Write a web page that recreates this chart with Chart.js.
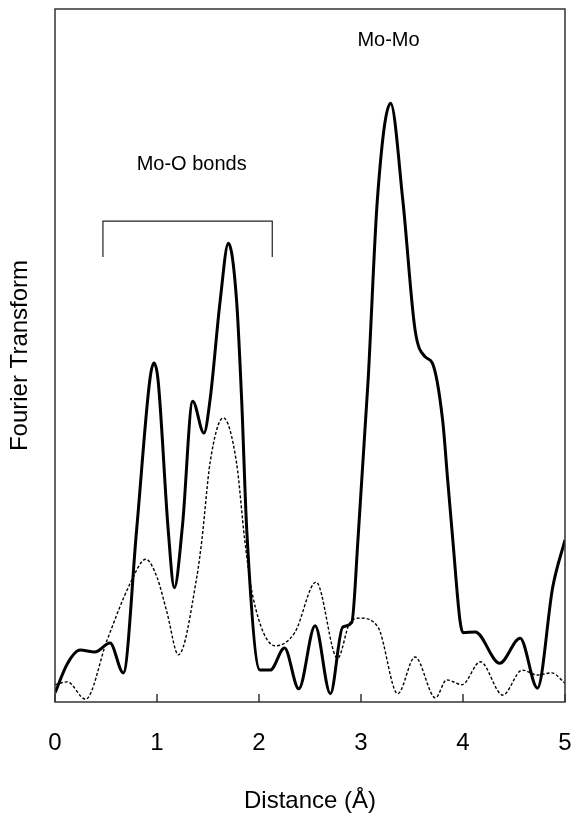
<!DOCTYPE html>
<html>
<head>
<meta charset="utf-8">
<script src="https://cdn.jsdelivr.net/npm/chart.js@4/dist/chart.umd.min.js"></script>
<style>
    html, body { margin: 0; padding: 0; background: #fff; overflow: hidden; }
    #wrap { width: 573px; height: 816px; position: relative; }
    canvas { display: block; }
</style>
</head>
<body>
<div id="wrap"><canvas id="ftChart"></canvas></div>
<script>
// Solid (thick) curve
const solidX = [0, 0.12, 0.245, 0.39, 0.54, 0.67, 0.80, 0.93, 0.97, 1.01, 1.11, 1.17, 1.25, 1.35, 1.46, 1.52, 1.62, 1.70, 1.78, 1.83, 1.88, 2.01, 2.11, 2.25, 2.39, 2.55, 2.70, 2.82, 2.91, 2.97, 3.07, 3.16, 3.29, 3.41, 3.53, 3.63, 3.70, 3.80, 3.85, 3.90, 3.97, 4.0, 4.12, 4.36, 4.56, 4.73, 4.88, 5.0];
const solidY = [1.3, 5.5, 7.5, 7.2, 8.5, 4.2, 24.8, 46.5, 48.9, 46.5, 24.8, 16.5, 25.5, 43.4, 38.8, 43.6, 58, 66.2, 58, 43.6, 24.8, 4.6, 4.6, 7.8, 1.9, 11.0, 1.2, 10.8, 11.5, 23.4, 46.5, 72.4, 86.4, 72.4, 53.7, 49.8, 48.9, 40.7, 32, 23.4, 11.8, 10.0, 10.1, 5.6, 9.2, 2.0, 16.6, 23.4];

// Dashed (thin) curve
const dashX = [0, 0.12, 0.30, 0.51, 0.74, 0.89, 1.0, 1.10, 1.21, 1.39, 1.44, 1.52, 1.65, 1.78, 1.86, 1.94, 2.16, 2.35, 2.56, 2.77, 2.89, 2.99, 3.17, 3.36, 3.53, 3.73, 3.84, 3.99, 4.17, 4.39, 4.58, 4.73, 4.87, 5.0];
const dashY = [2.5, 2.9, 0.4, 8.9, 17.2, 20.6, 18.0, 12.8, 6.8, 18.0, 23.4, 34.5, 41.0, 34.5, 23.4, 15.2, 8.1, 10.0, 17.3, 6.3, 11.4, 12.1, 10.7, 1.2, 6.5, 0.6, 3.2, 2.5, 5.8, 1.0, 4.6, 3.9, 4.2, 2.7];

// Bracket over the Mo-O peaks
const bracketX = [0.47, 0.47, 2.13, 2.13];
const bracketY = [64.2, 69.4, 69.4, 64.2];

const xTicks = [0, 1, 2, 3, 4, 5];
const labelText = ['Mo-O bonds', 'Mo-Mo'];
const labelX = [1.34, 3.27];
const labelY = [77.5, 95.5];

const FONT = 'Arial, "Liberation Sans", Helvetica, sans-serif';

function toPoints(xs, ys) {
    return xs.map((x, i) => ({ x: x, y: ys[i] }));
}

// Frame, inward tick marks and the text labels
const decorPlugin = {
    id: 'decor',
    afterDraw(chart) {
        const { ctx, chartArea: a, scales } = chart;
        ctx.save();
        ctx.strokeStyle = '#333';
        ctx.lineWidth = 1.5;
        ctx.strokeRect(a.left, a.top, a.right - a.left, a.bottom - a.top);
        ctx.beginPath();
        xTicks.forEach(t => {
            const px = scales.x.getPixelForValue(t);
            ctx.moveTo(px, a.bottom);
            ctx.lineTo(px, a.bottom - 8);
        });
        ctx.stroke();
        ctx.fillStyle = '#000';
        ctx.font = '20px ' + FONT;
        ctx.textAlign = 'center';
        ctx.textBaseline = 'middle';
        labelText.forEach((txt, i) => {
            ctx.fillText(txt, scales.x.getPixelForValue(labelX[i]), scales.y.getPixelForValue(labelY[i]));
        });
        ctx.restore();
    }
};

const ctx = document.getElementById('ftChart').getContext('2d');
new Chart(ctx, {
    type: 'line',
    data: {
        datasets: [{
            data: toPoints(solidX, solidY),
            borderColor: '#000',
            borderWidth: 3,
            cubicInterpolationMode: 'monotone',
            pointRadius: 0
        }, {
            data: toPoints(dashX, dashY),
            borderColor: '#000',
            borderWidth: 1.4,
            borderDash: [3, 2],
            cubicInterpolationMode: 'monotone',
            pointRadius: 0
        }, {
            data: toPoints(bracketX, bracketY),
            borderColor: '#222',
            borderWidth: 1.2,
            tension: 0,
            pointRadius: 0
        }]
    },
    options: {
        responsive: true,
        maintainAspectRatio: false,
        animation: false,
        layout: { padding: { top: 9, right: 8, left: 0, bottom: 0 } },
        plugins: {
            legend: { display: false },
            tooltip: { enabled: false }
        },
        scales: {
            x: {
                type: 'linear',
                min: 0,
                max: 5,
                // fixed height; drop the extra side padding the tick labels ask for
                afterFit: s => { s.height = 114; s.paddingLeft = 0; s.paddingRight = 0; },
                afterBuildTicks: s => { s.ticks = xTicks.map(v => ({ value: v })); },
                grid: { display: false, drawTicks: false },
                border: { display: false },
                ticks: {
                    padding: 27,
                    color: '#000',
                    font: { family: FONT, size: 24 }
                },
                title: {
                    display: true,
                    text: 'Distance (Å)',
                    color: '#000',
                    padding: { top: 0, bottom: 0 },
                    font: { family: FONT, size: 24 }
                }
            },
            y: {
                min: 0,
                max: 100,
                afterFit: s => { s.width = 55; },
                grid: { display: false, drawTicks: false },
                border: { display: false },
                ticks: { display: false },
                title: {
                    display: true,
                    text: 'Fourier Transform',
                    color: '#000',
                    padding: { top: 6, bottom: 0 },
                    font: { family: FONT, size: 24 }
                }
            }
        }
    },
    plugins: [decorPlugin]
});
</script>
</body>
</html>
